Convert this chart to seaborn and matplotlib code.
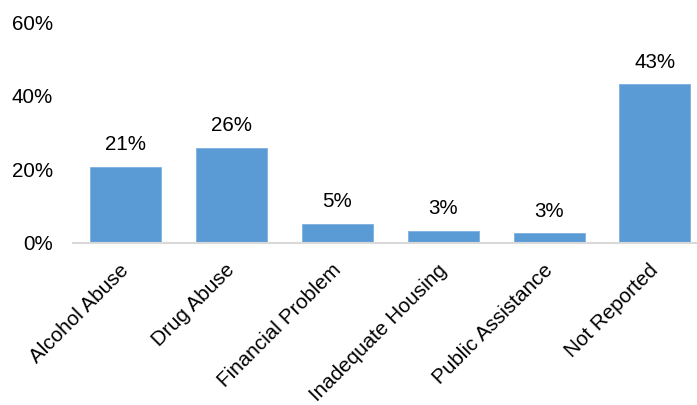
import matplotlib
matplotlib.use("Agg")
import matplotlib.pyplot as plt
import matplotlib.transforms as mtransforms
import seaborn as sns
import pandas as pd
from matplotlib.ticker import FuncFormatter

categories = ["Alcohol Abuse", "Drug Abuse", "Financial Problem",
              "Inadequate Housing", "Public Assistance", "Not Reported"]
percentages = [20.7, 25.9, 5.2, 3.3, 2.6, 43.1]
y_ticks = [0, 20, 40, 60]

df = pd.DataFrame({"reason": categories, "pct": percentages})

sns.set_theme(style="white")
plt.rcParams["font.family"] = ["Liberation Sans", "DejaVu Sans"]
FS = 14.8

fig = plt.figure(figsize=(6.97, 4.05), dpi=100)
ax = fig.add_axes([72.5 / 697, 0.40, 635.4 / 697, 221 / 405])

sns.barplot(data=df, x="reason", y="pct", color="#5B9BD5", saturation=1,
            width=0.67, edgecolor="#7FB0DF", linewidth=0.6, ax=ax)

ax.set_xlim(-0.5, 5.5)
ax.set_ylim(0, 60)
ax.set_yticks(y_ticks)
ax.yaxis.set_major_formatter(FuncFormatter(lambda v, _: f"{v:.0f}%"))
ax.set_xlabel("")
ax.set_ylabel("")

for s in ["top", "right", "left"]:
    ax.spines[s].set_visible(False)
ax.spines["bottom"].set_color("#D9D9D9")
ax.spines["bottom"].set_linewidth(1.5)

ax.tick_params(axis="y", length=0, pad=14, labelsize=FS, labelcolor="black")
ax.tick_params(axis="x", length=0, pad=12.5, labelsize=14.9, labelcolor="black")
shift = mtransforms.ScaledTranslation(-6 / 100, 0, fig.dpi_scale_trans)
for lbl in ax.get_xticklabels():
    lbl.set_rotation(45)
    lbl.set_ha("right")
    lbl.set_va("top")
    lbl.set_rotation_mode("anchor")
    lbl.set_transform(lbl.get_transform() + shift)

for cont in ax.containers:
    ax.bar_label(cont, labels=[f"{v:.0f}%" for v in percentages],
                 padding=9, fontsize=FS, color="black")

fig.savefig("out.png", dpi=100)
